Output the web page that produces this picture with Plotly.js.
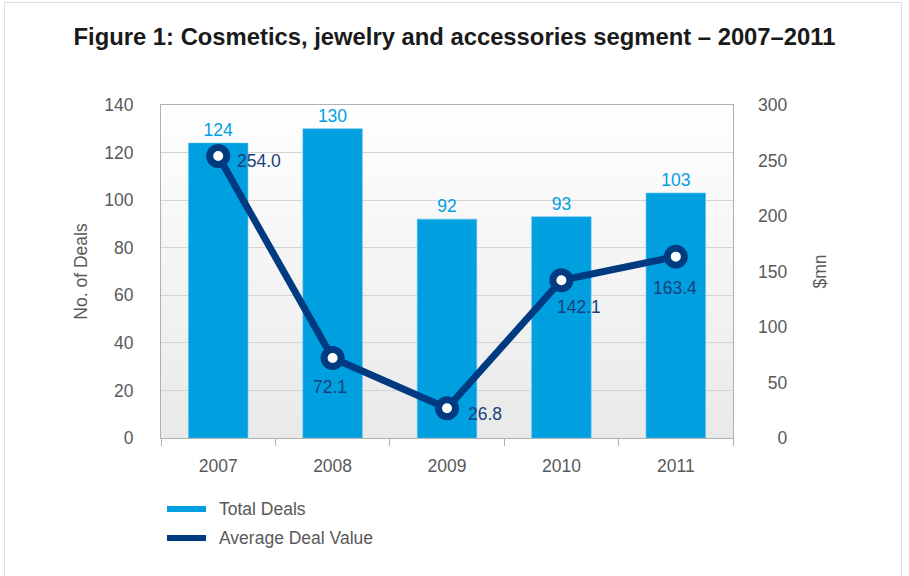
<!DOCTYPE html>
<html>
<head>
<meta charset="utf-8">
<script src="https://cdn.plot.ly/plotly-3.0.1.min.js"></script>
<style>
  html, body { margin: 0; padding: 0; background: #ffffff; }
  #wrap { position: relative; width: 909px; height: 576px; overflow: hidden; }
  #chart { width: 909px; height: 576px; }
  #frame { position: absolute; left: 4px; top: 2px; width: 898px; height: 620px;
           border: 1px solid #dedede; pointer-events: none; box-sizing: border-box; }
</style>
</head>
<body>
<div id="wrap">
  <div id="chart"></div>
  <div id="frame"></div>
</div>
<script>
// ---- data ----
const years = ['2007', '2008', '2009', '2010', '2011'];
const totalDeals = [124, 130, 92, 93, 103];
const avgDealValue = [254.0, 72.1, 26.8, 142.1, 163.4];
const leftTicks = [0, 20, 40, 60, 80, 100, 120, 140];
const rightTicks = [0, 50, 100, 150, 200, 250, 300];
const seriesNames = ['Total Deals', 'Average Deal Value'];

// ---- style ----
const BAR = '#009fe0';
const NAVY = '#003a80';
const GRAY_TXT = '#595959';
const FONT = '"Liberation Sans", Arial, sans-serif';

// plot area geometry (px) for helpers
const L = 161, R = 733, T = 105, B = 438, W = 909, H = 576;
const px2x = px => (px - L) / (R - L);
const px2y = py => (B - py) / (B - T);

// label placement for line values: [xanchor, xshift, yshift]
const lineLabelPos = [
  ['left', 17, -5],
  ['center', -3, -29],
  ['left', 19, -6],
  ['center', 18, -27],
  ['center', -1, -31]
];

// right-aligned right-axis tick text with figure spaces
const rightTickText = rightTicks.map(v => {
  const s = String(v);
  return '\u2007'.repeat(3 - s.length) + s;
});

const traces = [
  {
    type: 'bar', x: years, y: totalDeals, name: seriesNames[0],
    marker: { color: BAR, line: { color: '#5cc3ee', width: 0.6 } },
    text: totalDeals.map(String), textposition: 'outside',
    textfont: { color: BAR, size: 17.5, family: FONT },
    cliponaxis: false, showlegend: false, hoverinfo: 'x+y'
  },
  {
    type: 'scatter', mode: 'lines+markers', x: years, y: avgDealValue,
    yaxis: 'y2', name: seriesNames[1],
    line: { color: NAVY, width: 7 },
    marker: { symbol: 'circle', size: 17, color: '#ffffff', line: { color: NAVY, width: 7 } },
    cliponaxis: false, showlegend: false
  }
];

// gradient background for plot area
const shapes = [];
const N = 48;
for (let i = 0; i < N; i++) {
  const t = (i + 0.5) / N; // 0 bottom -> 1 top
  const c0 = 233, c1 = 255;
  const c = Math.round(c0 + (c1 - c0) * t);
  shapes.push({
    type: 'rect', xref: 'paper', yref: 'paper', layer: 'below',
    x0: 0, x1: 1, y0: i / N, y1: (i + 1) / N + 0.001,
    line: { width: 0 }, fillcolor: `rgb(${c},${c},${c})`
  });
}
// legend (manual)
const legendColors = [BAR, NAVY];
const legendRowsPx = [509, 538];
const annotations = [];
seriesNames.forEach((nm, i) => {
  shapes.push({
    type: 'line', xref: 'paper', yref: 'paper',
    x0: px2x(167), x1: px2x(206), y0: px2y(legendRowsPx[i]), y1: px2y(legendRowsPx[i]),
    line: { color: legendColors[i], width: 6 }
  });
  annotations.push({
    xref: 'paper', yref: 'paper', x: px2x(217), y: px2y(legendRowsPx[i]),
    xanchor: 'left', yanchor: 'middle', showarrow: false, text: nm,
    font: { family: FONT, size: 17.5, color: GRAY_TXT }
  });
});
// line value labels (category index used for x on the category axis)
avgDealValue.forEach((v, i) => {
  const p = lineLabelPos[i];
  annotations.push({
    x: years.indexOf(years[i]), y: v, xref: 'x', yref: 'y2', showarrow: false,
    text: v.toFixed(1), xanchor: p[0], yanchor: 'middle', xshift: p[1], yshift: p[2],
    font: { family: FONT, size: 17.5, color: '#1b3f7c' }
  });
});

const layout = {
  width: W, height: H,
  margin: { l: L, r: W - R, t: T, b: H - B, pad: 0 },
  paper_bgcolor: '#ffffff', plot_bgcolor: '#ececec',
  font: { family: FONT, color: GRAY_TXT },
  title: {
    text: '<b>Figure 1: Cosmetics, jewelry and accessories segment \u2013 2007\u20132011</b>',
    font: { family: FONT, size: 23.8, color: '#1a1a1a' },
    x: 0.5, xanchor: 'center', xref: 'container', y: 1 - 37 / H, yanchor: 'middle', yref: 'container'
  },
  bargap: 0.48,
  showlegend: false,
  xaxis: {
    type: 'category', showgrid: false, showline: true, mirror: true,
    linecolor: '#b0b0b0', linewidth: 1, range: [-0.5, 4.5],
    ticks: 'outside', tickson: 'boundaries', ticklen: 7, tickcolor: '#b0b0b0',
    tickfont: { family: FONT, size: 17.5, color: GRAY_TXT },
    ticklabelstandoff: 12, zeroline: false
  },
  yaxis: {
    range: [0, 140], tickvals: leftTicks, showgrid: true, gridcolor: '#d4d4d4', gridwidth: 1,
    showline: true, mirror: true, linecolor: '#b0b0b0', zeroline: false,
    ticks: '', tickfont: { family: FONT, size: 17.5, color: GRAY_TXT },
    ticklabelstandoff: 23,
    title: { text: 'No. of Deals', font: { family: FONT, size: 17.5, color: GRAY_TXT }, standoff: 12 }
  },
  yaxis2: {
    overlaying: 'y', side: 'right', range: [0, 300], tickvals: rightTicks, ticktext: rightTickText,
    showgrid: false, zeroline: false, showline: false, ticks: '',
    tickfont: { family: FONT, size: 17.5, color: GRAY_TXT },
    ticklabelstandoff: 24,
    title: { text: '$mn', font: { family: FONT, size: 17.5, color: GRAY_TXT }, standoff: 27 }
  },
  shapes: shapes,
  annotations: annotations
};

Plotly.newPlot('chart', traces, layout, { displayModeBar: false, staticPlot: true });
</script>
</body>
</html>
